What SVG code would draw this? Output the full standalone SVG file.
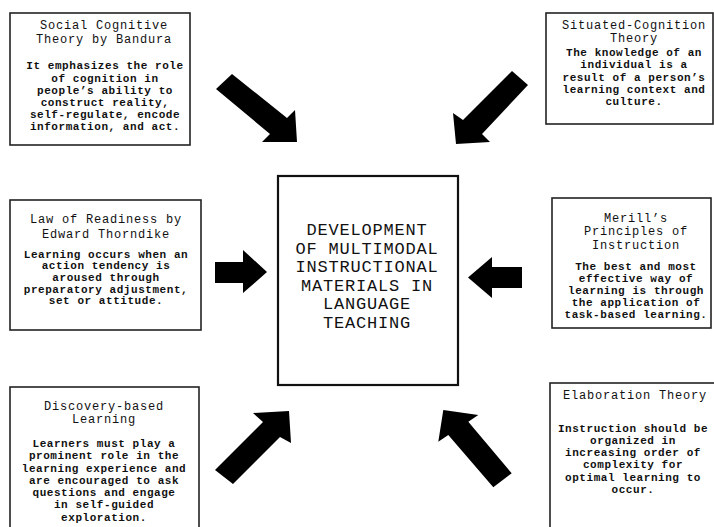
<svg xmlns="http://www.w3.org/2000/svg" width="714" height="527" viewBox="0 0 714 527">
<style>
.box{fill:#fff;stroke:#222;stroke-width:1.6}
.core{fill:#fff;stroke:#111;stroke-width:2.2}
text{font-family:"Liberation Mono","Courier New",monospace;text-anchor:middle;fill:#111}
.t{font-size:12px;letter-spacing:0.8px}
.b{font-size:11px;font-weight:bold;letter-spacing:0.55px}
.c{font-size:17px;letter-spacing:0.8px}
.arrow{fill:#000}
</style>
<rect width="714" height="527" fill="#fff"/>
<g id="connectors">
<polygon class="arrow" points="232,74 287,118 295,110 297,142 262,142 270,134 216,89"/>
<polygon class="arrow" points="512,71 463,120 453,113 456,144 490,142 482,134 528,85"/>
<polygon class="arrow" points="215,262 243,262 243,250 267,272 243,293 243,283 215,283"/>
<polygon class="arrow" points="522,267 492,267 492,257 468,277.5 492,298 492,288 522,288"/>
<polygon class="arrow" points="215,470 263,422 253,413 289,411 291,443 280,437 233,484"/>
<polygon class="arrow" points="511.7,473.3 468.3,421.7 478.3,415 443.3,410 438.3,441.7 448.3,435 493.3,487.3"/>
</g>
<g id="node-social">
<rect class="box" x="10" y="13" width="180" height="132"/>
<text class="t" x="104" y="29">Social Cognitive</text>
<text class="t" x="104" y="43">Theory by Bandura</text>
<text class="b" x="105" y="69">It emphasizes the role</text>
<text class="b" x="105" y="81.5">of cognition in</text>
<text class="b" x="105" y="94">people’s ability to</text>
<text class="b" x="105" y="106">construct reality,</text>
<text class="b" x="105" y="118">self-regulate, encode</text>
<text class="b" x="105" y="130">information, and act.</text>
</g>
<g id="node-situated">
<rect class="box" x="546" y="13" width="167" height="111"/>
<text class="t" x="634" y="29">Situated-Cognition</text>
<text class="t" x="634" y="42">Theory</text>
<text class="b" x="634" y="55.5">The knowledge of an</text>
<text class="b" x="634" y="68">individual is a</text>
<text class="b" x="634" y="81">result of a person’s</text>
<text class="b" x="634" y="93">learning context and</text>
<text class="b" x="634" y="104.5">culture.</text>
</g>
<g id="node-readiness">
<rect class="box" x="10" y="200" width="191" height="130"/>
<text class="t" x="106" y="223">Law of Readiness by</text>
<text class="t" x="106" y="238">Edward Thorndike</text>
<text class="b" x="106" y="257.5">Learning occurs when an</text>
<text class="b" x="106" y="269">action tendency is</text>
<text class="b" x="106" y="281">aroused through</text>
<text class="b" x="106" y="292.5">preparatory adjustment,</text>
<text class="b" x="106" y="304">set or attitude.</text>
</g>
<g id="node-merill">
<rect class="box" x="552" y="198" width="159" height="130"/>
<text class="t" x="636" y="221.5">Merill’s</text>
<text class="t" x="636" y="235">Principles of</text>
<text class="t" x="636" y="248.5">Instruction</text>
<text class="b" x="636" y="270">The best and most</text>
<text class="b" x="636" y="281.5">effective way of</text>
<text class="b" x="636" y="294">learning is through</text>
<text class="b" x="636" y="306">the application of</text>
<text class="b" x="636" y="318">task-based learning.</text>
</g>
<g id="node-discovery">
<rect class="box" x="10" y="387" width="189" height="150"/>
<text class="t" x="104" y="409.5">Discovery-based</text>
<text class="t" x="104" y="423">Learning</text>
<text class="b" x="104" y="446.5">Learners must play a</text>
<text class="b" x="104" y="459">prominent role in the</text>
<text class="b" x="104" y="471.5">learning experience and</text>
<text class="b" x="104" y="484">are encouraged to ask</text>
<text class="b" x="104" y="495.5">questions and engage</text>
<text class="b" x="104" y="508">in self-guided</text>
<text class="b" x="104" y="520.5">exploration.</text>
</g>
<g id="node-elaboration">
<rect class="box" x="550" y="383" width="175" height="160"/>
<text class="t" x="635" y="399">Elaboration Theory</text>
<text class="b" x="633" y="431.5">Instruction should be</text>
<text class="b" x="633" y="444">organized in</text>
<text class="b" x="633" y="456">increasing order of</text>
<text class="b" x="633" y="468">complexity for</text>
<text class="b" x="633" y="480.5">optimal learning to</text>
<text class="b" x="633" y="492.5">occur.</text>
</g>
<g id="node-center">
<rect class="core" x="278" y="176" width="180" height="209"/>
<text class="c" x="367" y="235">DEVELOPMENT</text>
<text class="c" x="367" y="253.5">OF MULTIMODAL</text>
<text class="c" x="367" y="272">INSTRUCTIONAL</text>
<text class="c" x="367" y="290.5">MATERIALS IN</text>
<text class="c" x="367" y="309">LANGUAGE</text>
<text class="c" x="367" y="328">TEACHING</text>
</g>
</svg>
